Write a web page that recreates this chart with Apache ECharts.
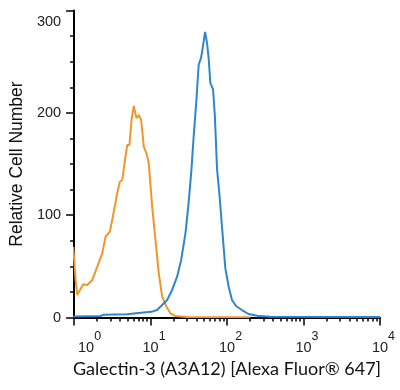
<!DOCTYPE html>
<html>
<head>
<meta charset="utf-8">
<script src="https://cdn.jsdelivr.net/npm/echarts@6/dist/echarts.min.js"></script>
<style>html,body{margin:0;padding:0;background:#fff}#c{width:400px;height:390px}</style>
</head>
<body>
<div id="c"></div>
<script>
// Fluorescence intensity (x) and relative cell number (y)
var isotypeX = [0.976, 1.046, 1.101, 1.155, 1.318, 1.487, 1.728, 2.009, 2.334, 2.578, 2.934, 3.308, 3.664, 3.963, 4.26, 4.70, 4.95, 5.30, 5.63, 6.03, 6.55, 7.01, 7.54, 8.15, 8.84, 9.47, 10.49, 11.59, 12.80, 14.17, 16.13, 18.2, 21.1, 30.0, 201];
var isotypeY = [69, 36.6, 22, 25, 32.4, 31.8, 36.6, 49.7, 62.7, 79, 83.9, 103.4, 121.4, 132.7, 134.4, 157.1, 168.6, 168.6, 193, 206.7, 194.7, 197.9, 193, 166.9, 160.4, 150.7, 108.3, 75.7, 43.2, 20.3, 10.6, 4.1, 1.5, 0.5, 0.3];
var stainX = [0.976, 2.22, 2.43, 4.95, 5.0, 6.95, 7.1, 10.27, 12.19, 14.17, 16.47, 19.14, 22.24, 25.08, 28.55, 31.53, 34.2, 36.6, 39.7, 42.6, 45.8, 48.6, 51.6, 54.8, 57.5, 60.5, 65.6, 69.3, 74.0, 80.0, 86.0, 95.0, 105, 116, 132, 157, 191, 246, 367, 10000];
var stainY = [1, 1.5, 2.8, 3.2, 4.3, 4.5, 5.2, 5.5, 7.3, 12.2, 17.1, 26.9, 39.9, 56, 82, 113, 144, 177, 212, 247, 254, 266, 279, 268, 253, 229, 223, 197, 145, 118, 88, 48, 30, 17.1, 11, 7.3, 3.4, 1.8, 0.8, 0.5];
var yTicks = [0, 100, 200, 300];
var xDecades = [0, 1, 2, 3, 4];
var xMinorMultipliers = [2, 3, 4, 5, 6, 7, 8, 9];

function zip(xs, ys) { return xs.map(function (x, i) { return [x, ys[i]]; }); }
var minorLog = [];
for (var d = 0; d < 4; d++) {
  xMinorMultipliers.forEach(function (m) { minorLog.push(d + Math.log10(m)); });
}

var chart = echarts.init(document.getElementById('c'), null, {renderer: 'canvas'});
chart.setOption({
  animation: false,
  grid: {left: 73, right: 20, top: 10.5, bottom: 72.5},
  xAxis: [{
    type: 'log', logBase: 10, min: 1, max: 10000,
    axisLine: {show: true, lineStyle: {color: '#000', width: 2}},
    axisTick: {show: true, length: 8, lineStyle: {color: '#000', width: 1.5}},
    splitLine: {show: false},
    axisLabel: {
      margin: 13,
      formatter: function (v) {
        var e = Math.round(Math.log10(v));
        return (e === 0 ? '{q|}' : '{p|}') + '{b|10}{e|' + e + '}';
      },
      rich: {
        b: {fontFamily: 'Liberation Sans, Arial', fontSize: 14.5, color: '#222', verticalAlign: 'bottom', lineHeight: 25},
        e: {fontFamily: 'Liberation Sans, Arial', fontSize: 12.5, color: '#222', verticalAlign: 'top', lineHeight: 25},
        p: {width: 7},
        q: {width: 31}
      }
    },
    name: 'Galectin-3 (A3A12) [Alexa Fluor® 647]',
    nameLocation: 'middle', nameGap: 42,
    nameTextStyle: {fontFamily: 'Lato', fontSize: 18, color: '#111'}
  }, {
    type: 'value', min: 0, max: 4, position: 'bottom',
    axisLine: {show: false},
    axisLabel: {show: false},
    splitLine: {show: false},
    axisTick: {show: true, length: 4, customValues: minorLog, lineStyle: {color: '#000', width: 1.5}}
  }],
  yAxis: {
    type: 'value', min: 0, max: 300, interval: 100,
    axisLine: {show: true, lineStyle: {color: '#000', width: 2}},
    axisTick: {show: true, length: 8, lineStyle: {color: '#000', width: 1.5}},
    minorTick: {show: true, splitNumber: 4, length: 4, lineStyle: {color: '#000', width: 1.5}},
    splitLine: {show: false},
    axisLabel: {
      margin: 13,
      formatter: function (v) { return v === 300 ? '{t|300}' : '{n|' + v + '}'; },
      rich: {
        n: {fontFamily: 'Liberation Sans, Arial', fontSize: 14.5, color: '#222'},
        t: {fontFamily: 'Liberation Sans, Arial', fontSize: 14.5, color: '#222', padding: [22, 0, 0, 0]}
      }
    },
    name: 'Relative Cell Number',
    nameLocation: 'middle', nameGap: 45,
    nameTextStyle: {fontFamily: 'Liberation Sans, Arial', fontSize: 17.5, color: '#111'}
  },
  series: [{
    type: 'line', data: zip(isotypeX, isotypeY), showSymbol: false, smooth: false,
    lineStyle: {color: '#F0962B', width: 2}, z: 2
  }, {
    type: 'line', data: zip(stainX, stainY), showSymbol: false, smooth: false,
    lineStyle: {color: '#2E86CC', width: 2}, z: 3
  }]
});
</script>
</body>
</html>
